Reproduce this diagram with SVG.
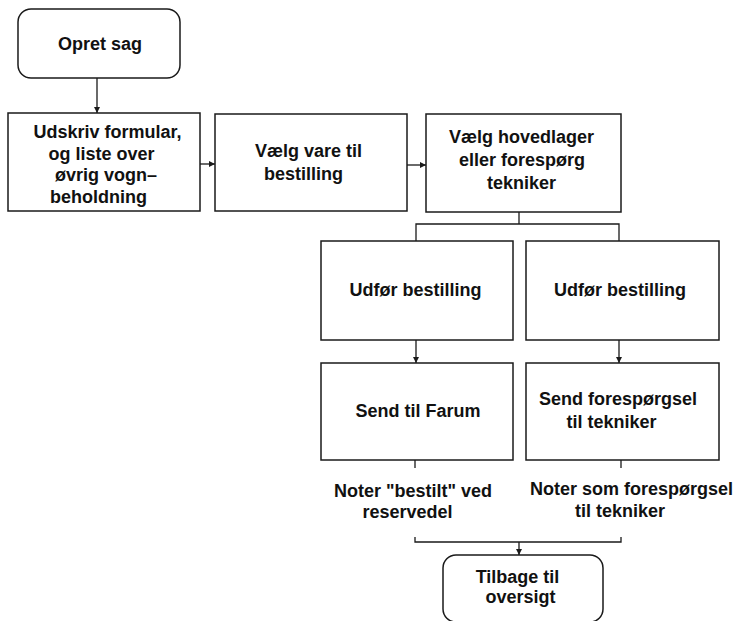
<svg xmlns="http://www.w3.org/2000/svg" width="736" height="621" viewBox="0 0 736 621">
  <style>
    .box { fill: #ffffff; stroke: #1a1a1a; stroke-width: 1.5; }
    .wire { fill: none; stroke: #1a1a1a; stroke-width: 1.3; }
    .lbl { font-family: "Liberation Sans", Arial, sans-serif; font-size: 18px; font-weight: bold; fill: #111111; text-anchor: middle; }
  </style>
  <defs>
    <marker id="arrow" viewBox="0 0 6 6" refX="6" refY="3" markerWidth="6" markerHeight="6" markerUnits="userSpaceOnUse" orient="auto">
      <path d="M0,0 L6,3 L0,6 Z" fill="#1a1a1a"/>
    </marker>
  </defs>
  <rect width="736" height="621" fill="#ffffff"/>

  <!-- connectors -->
  <g id="connectors">
    <line class="wire" x1="97" y1="78" x2="97" y2="113" marker-end="url(#arrow)"/>
    <line class="wire" x1="200" y1="164" x2="215" y2="164" marker-end="url(#arrow)"/>
    <line class="wire" x1="407" y1="165" x2="426" y2="165" marker-end="url(#arrow)"/>
    <polyline class="wire" points="519,212 519,224"/>
    <polyline class="wire" points="416,241 416,224 619,224 619,241"/>
    <line class="wire" x1="416" y1="340" x2="416" y2="363" marker-end="url(#arrow)"/>
    <line class="wire" x1="619" y1="340" x2="619" y2="363" marker-end="url(#arrow)"/>
    <line class="wire" x1="415" y1="460" x2="415" y2="468"/>
    <line class="wire" x1="621" y1="460" x2="621" y2="468"/>
    <polyline class="wire" points="415,537 415,542 621,542 621,537"/>
    <line class="wire" x1="519" y1="542" x2="519" y2="555" marker-end="url(#arrow)"/>
  </g>

  <g id="opret-sag">
    <rect class="box" x="18" y="9" width="162" height="69" rx="13"/>
    <text class="lbl" x="100" y="50">Opret sag</text>
  </g>

  <g id="udskriv">
    <rect class="box" x="8" y="113" width="192" height="98"/>
    <text class="lbl" x="107.5" y="138">Udskriv formular,</text>
    <text class="lbl" x="101.5" y="159.5">og liste over</text>
    <text class="lbl" x="106" y="181">øvrig vogn–</text>
    <text class="lbl" x="98.5" y="202.5">beholdning</text>
  </g>

  <g id="vaelg-vare">
    <rect class="box" x="215" y="114" width="192" height="97"/>
    <text class="lbl" x="308.5" y="157">Vælg vare til</text>
    <text class="lbl" x="303.5" y="180">bestilling</text>
  </g>

  <g id="vaelg-hovedlager">
    <rect class="box" x="426" y="114" width="195" height="98"/>
    <text class="lbl" x="521.5" y="143">Vælg hovedlager</text>
    <text class="lbl" x="522" y="166">eller forespørg</text>
    <text class="lbl" x="521.5" y="189">tekniker</text>
  </g>

  <g id="udfoer-venstre">
    <rect class="box" x="321" y="241" width="192" height="99"/>
    <text class="lbl" x="415.5" y="296">Udfør bestilling</text>
  </g>

  <g id="udfoer-hoejre">
    <rect class="box" x="526" y="241" width="193" height="99"/>
    <text class="lbl" x="620" y="296">Udfør bestilling</text>
  </g>

  <g id="send-farum">
    <rect class="box" x="321" y="363" width="192" height="97"/>
    <text class="lbl" x="418" y="417">Send til Farum</text>
  </g>

  <g id="send-tekniker">
    <rect class="box" x="526" y="363" width="193" height="97"/>
    <text class="lbl" x="618" y="405">Send forespørgsel</text>
    <text class="lbl" x="611.5" y="428">til tekniker</text>
  </g>

  <g id="noter-bestilt">
    <text class="lbl" x="413" y="497">Noter "bestilt" ved</text>
    <text class="lbl" x="407.5" y="518">reservedel</text>
  </g>

  <g id="noter-forespoergsel">
    <text class="lbl" x="631.5" y="495">Noter som forespørgsel</text>
    <text class="lbl" x="620" y="517">til tekniker</text>
  </g>

  <g id="tilbage">
    <rect class="box" x="443" y="555" width="160" height="67" rx="13"/>
    <text class="lbl" x="517.5" y="583">Tilbage til</text>
    <text class="lbl" x="520.5" y="603">oversigt</text>
  </g>
</svg>
